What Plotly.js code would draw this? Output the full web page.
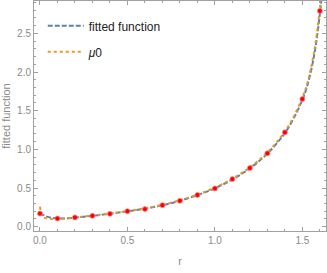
<!DOCTYPE html>
<html>
<head>
<meta charset="utf-8">
<script src="https://cdn.plot.ly/plotly-3.0.1.min.js"></script>
<style>html,body{margin:0;padding:0;background:#fff;}#chart{width:327px;height:273px;}</style>
</head>
<body>
<div id="chart"></div>
<script>
// sample data points (red)
var rPoints = [0, 0.1, 0.2, 0.3, 0.4, 0.5, 0.6, 0.7, 0.8, 0.9, 1.0, 1.1, 1.2, 1.3, 1.4, 1.5, 1.6];
var valPoints = [0.17, 0.106, 0.12, 0.14, 0.166, 0.2, 0.227, 0.278, 0.334, 0.41, 0.495, 0.615, 0.758, 0.948, 1.22, 1.65, 2.79];

// fitted function curve
var rFit = [0, 0.01, 0.02, 0.03, 0.05, 0.075, 0.1, 0.15, 0.2, 0.25, 0.3, 0.35, 0.4, 0.45, 0.5, 0.55, 0.6, 0.65, 0.7, 0.75, 0.8, 0.85, 0.9, 0.95, 1.0, 1.05, 1.1, 1.15, 1.2, 1.25, 1.3, 1.35, 1.4, 1.45, 1.5, 1.525, 1.55, 1.575, 1.6, 1.612];
var valFit = [0.175, 0.16, 0.148, 0.138, 0.123, 0.111, 0.106, 0.108, 0.117, 0.128, 0.14, 0.153, 0.167, 0.182, 0.198, 0.214, 0.232, 0.254, 0.277, 0.304, 0.334, 0.369, 0.408, 0.45, 0.497, 0.551, 0.61, 0.678, 0.755, 0.843, 0.945, 1.068, 1.21, 1.4, 1.64, 1.8, 2.02, 2.32, 2.75, 3.0];

// mu0 curve
var rMu = [0, 0.005, 0.01, 0.02, 0.03, 0.05, 0.075, 0.1, 0.15, 0.2, 0.25, 0.3, 0.35, 0.4, 0.45, 0.5, 0.55, 0.6, 0.65, 0.7, 0.75, 0.8, 0.85, 0.9, 0.95, 1.0, 1.05, 1.1, 1.15, 1.2, 1.25, 1.3, 1.35, 1.4, 1.45, 1.5, 1.525, 1.55, 1.575, 1.6, 1.61];
var valMu = [0.26, 0.2, 0.16, 0.125, 0.11, 0.102, 0.1, 0.101, 0.108, 0.119, 0.131, 0.144, 0.157, 0.171, 0.186, 0.202, 0.219, 0.238, 0.259, 0.283, 0.31, 0.341, 0.376, 0.415, 0.458, 0.505, 0.559, 0.62, 0.689, 0.768, 0.857, 0.96, 1.085, 1.23, 1.42, 1.67, 1.83, 2.06, 2.37, 2.82, 3.0];

var seriesNames = ['fitted function', '<i>μ</i>0'];

var traces = [
  {x: rFit, y: valFit, type: 'scatter', mode: 'lines', name: seriesNames[0], legendgroup: 'a',
   line: {color: '#5E81B5', width: 2, dash: '5px,2px', shape: 'spline'}},
  {x: rMu, y: valMu, type: 'scatter', mode: 'lines', name: seriesNames[1], legendgroup: 'b',
   line: {color: '#E19C24', width: 2, dash: 'dot', shape: 'spline'}},
  {x: rPoints, y: valPoints, type: 'scatter', mode: 'markers', showlegend: false,
   marker: {color: '#ff0000', size: 5, line: {color: 'rgba(255,140,140,0.7)', width: 1}}}
];

var axisCommon = {
  showgrid: false, zeroline: false, showline: true, linecolor: '#a0a0a0', linewidth: 1,
  mirror: 'ticks', ticks: 'inside', ticklen: 4, tickcolor: '#a0a0a0', tickwidth: 1,
  tickfont: {family: 'Liberation Sans, Arial, sans-serif', size: 10, color: '#8a8a8a'},
  tickformat: '.1f'
};

var layout = {
  width: 327, height: 273,
  margin: {l: 34, r: 1, t: 1, b: 42},
  paper_bgcolor: '#fff', plot_bgcolor: '#fff',
  showlegend: true,
  legend: {x: 0.03, y: 0.955, xanchor: 'left', yanchor: 'top', bgcolor: 'rgba(0,0,0,0)',
           font: {family: 'Liberation Sans, Arial, sans-serif', size: 12, color: '#222'},
           tracegroupgap: 7, itemwidth: 36},
  xaxis: Object.assign({}, axisCommon, {
    range: [-0.034, 1.635], dtick: 0.5, tick0: 0,
    minor: {dtick: 0.1, tick0: 0, ticks: 'inside', ticklen: 2, tickcolor: '#a0a0a0'},
    title: {text: 'r', font: {family: 'Liberation Sans, Arial, sans-serif', size: 11, color: '#8a8a8a'}, standoff: 12}
  }),
  yaxis: Object.assign({}, axisCommon, {
    range: [-0.056, 2.918], dtick: 0.5, tick0: 0,
    minor: {dtick: 0.1, tick0: 0, ticks: 'inside', ticklen: 2, tickcolor: '#a0a0a0'},
    title: {text: 'fitted function', font: {family: 'Liberation Sans, Arial, sans-serif', size: 11, color: '#8a8a8a'}, standoff: 6}
  })
};

Plotly.newPlot('chart', traces, layout, {displayModeBar: false, staticPlot: true});
</script>
</body>
</html>
